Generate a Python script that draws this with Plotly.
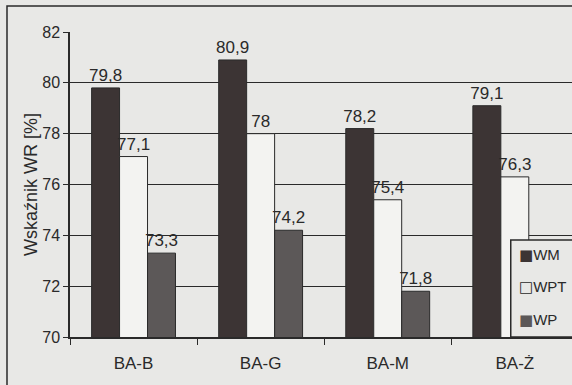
import plotly.graph_objects as go

categories = ["BA-B", "BA-G", "BA-M", "BA-Ż"]
series_names = ["WM", "WPT", "WP"]
legend_marks = ["■", "□", "■"]
wm = [79.8, 80.9, 78.2, 79.1]
wpt = [77.1, 78.0, 75.4, 76.3]
wp = [73.3, 74.2, 71.8, None]
y_ticks = [70, 72, 74, 76, 78, 80, 82]

def fmt(v):
    if v is None:
        return ""
    s = f"{v:.1f}".replace(".", ",")
    if s.endswith(",0"):
        s = s[:-2]
    return s

bg = "#e8e8e6"
ink = "#2a2a2a"
colors = ["#3c3434", "#f3f3f1", "#5c5858"]
values = [wm, wpt, wp]

fig = go.Figure()
for name, vals, col in zip(series_names, values, colors):
    fig.add_trace(go.Bar(
        x=categories, y=vals, name=name,
        marker=dict(color=col, line=dict(color=ink, width=1)),
        text=[fmt(v) for v in vals], textposition="outside", constraintext="none",
        textfont=dict(family="Liberation Sans, Arial", size=17, color=ink),
        cliponaxis=False, showlegend=False,
    ))

fig.update_layout(
    width=572, height=385,
    margin=dict(l=70, r=0, t=32, b=48),
    paper_bgcolor=bg, plot_bgcolor=bg,
    barmode="group", bargap=0.34, bargroupgap=0,
    font=dict(family="Liberation Sans, Arial", size=16, color=ink),
    showlegend=False,
)
fig.update_xaxes(
    range=[-0.5, 3.45], showgrid=False, showline=True, linecolor=ink, linewidth=1.5,
    ticks="outside", tickson="boundaries", ticklen=6, tickcolor=ink,
    tickfont=dict(size=17), ticklabelstandoff=10,
)
fig.update_yaxes(
    range=[70, 82], tickmode="array", tickvals=y_ticks, showgrid=True,
    gridcolor=ink, gridwidth=1.3, zeroline=False,
    showline=True, linecolor=ink, linewidth=1.5, ticks="outside", ticklen=5,
    tickcolor=ink, tickfont=dict(size=16), ticksuffix="\u2002",
    title=dict(text="Wskaźnik WR [%]", font=dict(size=18), standoff=0),
)
# outer frame
fig.add_shape(type="rect", xref="paper", yref="paper",
              x0=-0.1255, x1=1.2, y0=-0.5, y1=1.085,
              line=dict(color=ink, width=1.5), fillcolor="rgba(0,0,0,0)",
              layer="below")
# legend box (extends past the right edge, as in the original)
fig.add_shape(type="rect", xref="paper", yref="paper",
              x0=0.878, x1=1.2, y0=0.0, y1=0.318,
              line=dict(color=ink, width=1.5), fillcolor=bg, layer="above")
for i, (name, mark, col) in enumerate(zip(series_names, legend_marks, colors)):
    mcol = ink if mark == "□" else col
    fig.add_annotation(
        xref="paper", yref="paper", x=0.89, y=0.269 - i * 0.106,
        xanchor="left", yanchor="middle", showarrow=False,
        text=(f'<span style="color:{mcol};font-family:DejaVu Sans;font-size:15px">'
              f'{mark}</span>{name}'),
        font=dict(size=15, color=ink),
    )

fig.write_html("out.html")
